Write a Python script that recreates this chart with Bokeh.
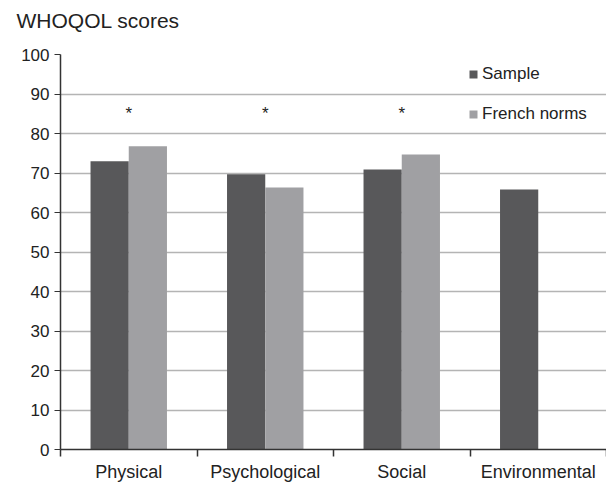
from bokeh.plotting import figure
from bokeh.models import FixedTicker, ColumnDataSource, Legend, LegendItem, Range1d, Title
from bokeh.core.properties import value
from bokeh.embed import file_html
from bokeh.resources import INLINE

categories = ["Physical", "Psychological", "Social", "Environmental"]
sample = [73.0, 69.7, 70.9, 65.8]
french_norms = [76.8, 66.3, 74.7, None]
significant = [True, True, True, False]
y_ticks = [0, 10, 20, 30, 40, 50, 60, 70, 80, 90, 100]
star_level = 85
title_text = "WHOQOL scores"

FONT = "Liberation Sans"
bar_w = 0.28

centers = [i + 0.5 for i in range(len(categories))]

p = figure(width=606, height=484, output_backend="svg", toolbar_location=None,
           x_range=Range1d(0, len(categories)), y_range=Range1d(0, 100),
           min_border_left=60, min_border_right=0, min_border_top=54, min_border_bottom=26)
p.outline_line_color = None
p.background_fill_color = "white"
p.border_fill_color = "white"

p.title.text = title_text
p.title.text_font = FONT
p.title.text_font_size = "21px"
p.title.text_font_style = "normal"
p.title.text_color = "#222222"
p.title.align = "left"
p.title.offset = -44
p.title.standoff = 0

# spacer between the frame and the title
spacer = Title(text=" ", text_font_size="1px", standoff=20)
p.add_layout(spacer, "above")

s_src = ColumnDataSource(dict(x=[c - bar_w / 2 for c in centers], top=sample))
fx = [c + bar_w / 2 for c, v in zip(centers, french_norms) if v is not None]
fv = [v for v in french_norms if v is not None]
f_src = ColumnDataSource(dict(x=fx, top=fv))

r1 = p.vbar(x="x", top="top", width=bar_w, bottom=0, source=s_src,
            fill_color="#58585a", line_color=None)
r2 = p.vbar(x="x", top="top", width=bar_w, bottom=0, source=f_src,
            fill_color="#a0a0a3", line_color=None)

st_x = [c for c, s in zip(centers, significant) if s]
p.text(x=st_x, y=[star_level] * len(st_x), text=["*"] * len(st_x),
       text_align="center", text_baseline="middle", text_font=value(FONT),
       text_font_size="17px", text_color="#222222")

# y axis
p.yaxis.ticker = FixedTicker(ticks=y_ticks)
p.yaxis.axis_line_color = "#333333"
p.yaxis.axis_line_width = 1.5
p.yaxis.major_tick_out = 6
p.yaxis.major_tick_in = 0
p.yaxis.major_tick_line_color = "#333333"
p.yaxis.minor_tick_line_color = None
p.yaxis.major_label_text_font = FONT
p.yaxis.major_label_text_font_size = "17px"
p.yaxis.major_label_text_color = "#222222"
p.yaxis.major_label_standoff = 5

# x axis
p.xaxis.ticker = FixedTicker(ticks=centers, minor_ticks=list(range(len(categories) + 1)))
p.xaxis.major_label_overrides = {c: name for c, name in zip(centers, categories)}
p.xaxis.major_tick_line_color = None
p.xaxis.major_tick_out = 7
p.xaxis.major_tick_in = 0
p.xaxis.minor_tick_line_color = "#333333"
p.xaxis.minor_tick_out = 7
p.xaxis.minor_tick_in = 0
p.xaxis.minor_tick_line_width = 1.5
p.xaxis.axis_line_color = "#333333"
p.xaxis.axis_line_width = 1.5
p.xaxis.major_label_text_font = FONT
p.xaxis.major_label_text_font_size = "18px"
p.xaxis.major_label_text_color = "#222222"
p.xaxis.major_label_standoff = 5

p.xgrid.grid_line_color = None
p.ygrid.ticker = FixedTicker(ticks=y_ticks)
p.ygrid.grid_line_color = "#b4b4b4"
p.ygrid.grid_line_width = 1.5

legend = Legend(items=[LegendItem(label="Sample", renderers=[r1]),
                       LegendItem(label="French norms", renderers=[r2])],
                location=(408, 325), padding=0, margin=0, spacing=20,
                glyph_width=10, glyph_height=10, label_height=20,
                label_standoff=4, background_fill_alpha=0, border_line_color=None,
                label_text_font=FONT, label_text_font_size="17px",
                label_text_color="#222222")
p.add_layout(legend, "center")

open("out.html", "w").write(file_html(p, INLINE))
